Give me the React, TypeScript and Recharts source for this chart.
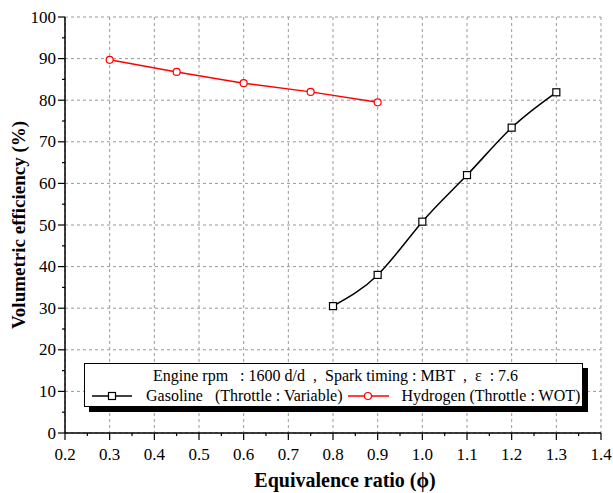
import React from 'react';
import { LineChart, Line, XAxis, YAxis, CartesianGrid } from 'recharts';

const gasolinePhi = [0.8, 0.9, 1.0, 1.1, 1.2, 1.3];
const gasolineVE = [30.5, 38, 50.8, 62, 73.4, 81.9];
const hydrogenPhi = [0.3, 0.45, 0.6, 0.75, 0.9];
const hydrogenVE = [89.7, 86.8, 84.1, 82, 79.5];

const majorX = [0.2, 0.3, 0.4, 0.5, 0.6, 0.7, 0.8, 0.9, 1.0, 1.1, 1.2, 1.3, 1.4];
const allX = [0.2, 0.25, 0.3, 0.35, 0.4, 0.45, 0.5, 0.55, 0.6, 0.65, 0.7, 0.75, 0.8, 0.85, 0.9, 0.95, 1.0, 1.05, 1.1, 1.15, 1.2, 1.25, 1.3, 1.35, 1.4];
const majorY = [0, 10, 20, 30, 40, 50, 60, 70, 80, 90, 100];
const allY = [0, 5, 10, 15, 20, 25, 30, 35, 40, 45, 50, 55, 60, 65, 70, 75, 80, 85, 90, 95, 100];

const gasoline = gasolinePhi.map((phi, i) => ({ phi, ve: gasolineVE[i] }));
const hydrogen = hydrogenPhi.map((phi, i) => ({ phi, ve: hydrogenVE[i] }));

const FONT = '"Liberation Serif", "Times New Roman", serif';

const BottomTick = (props: any) => {
	const { x, y, payload } = props;
	const major = majorX.includes(payload.value);
	return (
		<g>
			<line x1={x} x2={x} y1={y} y2={y + (major ? 7 : 3)} stroke="#000" strokeWidth={1.2} />
			{major && (
				<text x={x} y={y + 27} textAnchor="middle" fontSize={17} fontFamily={FONT} fill="#000">
					{payload.value.toFixed(1)}
				</text>
			)}
		</g>
	);
};

const TopTick = (props: any) => {
	const { x, y, payload } = props;
	const major = majorX.includes(payload.value);
	return <line x1={x} x2={x} y1={y} y2={y + (major ? 5 : 3)} stroke="#000" strokeWidth={1.2} />;
};

const LeftTick = (props: any) => {
	const { x, y, payload } = props;
	const major = majorY.includes(payload.value);
	return (
		<g>
			<line x1={x} x2={x - (major ? 7 : 3)} y1={y} y2={y} stroke="#000" strokeWidth={1.2} />
			{major && (
				<text x={x - 9} y={y} textAnchor="end" dominantBaseline="central" fontSize={17} fontFamily={FONT} fill="#000">
					{payload.value}
				</text>
			)}
		</g>
	);
};

const RightTick = (props: any) => {
	const { x, y, payload } = props;
	const major = majorY.includes(payload.value);
	return <line x1={x} x2={x - (major ? 5 : 3)} y1={y} y2={y} stroke="#000" strokeWidth={1.2} />;
};

const SquareDot = (props: any) => {
	const { cx, cy } = props;
	return <rect x={cx - 3.5} y={cy - 3.5} width={7} height={7} fill="#fff" stroke="#000" strokeWidth={1.2} />;
};

const LegendBox = () => (
	<div
		style={{
			position: 'absolute',
			left: 84,
			top: 363,
			width: 497,
			height: 42,
			border: '1px solid #000',
			boxShadow: '5px 5px 0 #000',
			background: '#fff',
			fontFamily: FONT,
			fontSize: 16,
			lineHeight: '20px',
			whiteSpace: 'pre',
		}}
	>
		<div style={{ position: 'absolute', left: 68, top: 2 }}>
			{'Engine rpm   : 1600 d/d  ,  Spark timing : MBT  ,  ε  : 7.6'}
		</div>
		<div style={{ position: 'absolute', left: 7, top: 22, display: 'flex', alignItems: 'center' }}>
			<svg width={40} height={12}>
				<line x1={0} x2={40} y1={6} y2={6} stroke="#000" strokeWidth={1.5} />
				<rect x={16.5} y={2.5} width={7} height={7} fill="#fff" stroke="#000" strokeWidth={1.2} />
			</svg>
			<span style={{ marginLeft: 14 }}>{'Gasoline   (Throttle : Variable)'}</span>
			<svg width={41} height={12} style={{ marginLeft: 5 }}>
				<line x1={0} x2={41} y1={6} y2={6} stroke="#f00" strokeWidth={1.5} />
				<circle cx={20} cy={6} r={3.5} fill="#fff" stroke="#f00" strokeWidth={1.2} />
			</svg>
			<span style={{ marginLeft: 13 }}>{'Hydrogen (Throttle : WOT)'}</span>
		</div>
	</div>
);

export default function App() {
	return (
		<div style={{ position: 'absolute', left: 0, top: 0, width: 613, height: 493, background: '#fff' }}>
			<LineChart width={613} height={493} margin={{ top: 17, right: 12, bottom: 0, left: 0 }}>
				<CartesianGrid
					stroke="#999"
					strokeDasharray="3 3"
					horizontalValues={majorY}
					verticalValues={majorX}
				/>
				<XAxis
					dataKey="phi"
					type="number"
					domain={[0.2, 1.4]}
					ticks={allX}
					interval={0}
					allowDataOverflow
					height={60}
					tickSize={0}
					tickMargin={0}
					tickLine={false}
					axisLine={{ stroke: '#000', strokeWidth: 1.5 }}
					tick={<BottomTick />}
					label={{
						content: (p: any) => (
							<text
								x={p.viewBox.x + p.viewBox.width / 2 + 12}
								y={p.viewBox.y + 54}
								textAnchor="middle"
								fontSize={20}
								fontWeight="bold"
								fontFamily={FONT}
								fill="#000"
							>
								Equivalence ratio (ϕ)
							</text>
						),
					}}
				/>
				<XAxis
					xAxisId="top"
					orientation="top"
					type="number"
					domain={[0.2, 1.4]}
					ticks={allX}
					interval={0}
					allowDataOverflow
					height={0}
					tickSize={0}
					tickMargin={0}
					tickLine={false}
					axisLine={{ stroke: '#000', strokeWidth: 1.5 }}
					tick={<TopTick />}
				/>
				<YAxis
					type="number"
					domain={[0, 100]}
					ticks={allY}
					interval={0}
					allowDataOverflow
					width={65}
					tickSize={0}
					tickMargin={0}
					tickLine={false}
					axisLine={{ stroke: '#000', strokeWidth: 1.5 }}
					tick={<LeftTick />}
					label={{
						content: (p: any) => {
							const cx = p.viewBox.x + 25;
							const cy = p.viewBox.y + p.viewBox.height / 2;
							return (
								<text
									x={cx}
									y={cy}
									transform={`rotate(-90 ${cx} ${cy})`}
									textAnchor="middle"
									fontSize={19}
									fontWeight="bold"
									fontFamily={FONT}
									fill="#000"
								>
									Volumetric efficiency (%)
								</text>
							);
						},
					}}
				/>
				<YAxis
					yAxisId="right"
					orientation="right"
					type="number"
					domain={[0, 100]}
					ticks={allY}
					interval={0}
					allowDataOverflow
					width={0}
					tickSize={0}
					tickMargin={0}
					tickLine={false}
					axisLine={{ stroke: '#000', strokeWidth: 1.5 }}
					tick={<RightTick />}
				/>
				<Line
					data={gasoline}
					dataKey="ve"
					type="natural"
					stroke="#000"
					strokeWidth={1.5}
					dot={<SquareDot />}
					isAnimationActive={false}
				/>
				<Line
					data={hydrogen}
					dataKey="ve"
					type="linear"
					stroke="#f00"
					strokeWidth={1.5}
					dot={{ r: 3.5, fill: '#fff', stroke: '#f00', strokeWidth: 1.2 }}
					isAnimationActive={false}
				/>
			</LineChart>
			<LegendBox />
		</div>
	);
}
